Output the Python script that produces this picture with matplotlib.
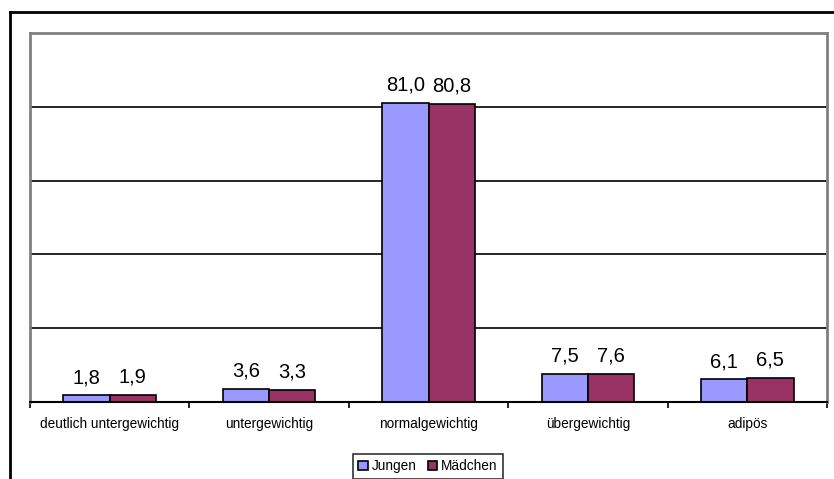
import numpy as np
import matplotlib
matplotlib.use("Agg")
from matplotlib import pyplot as plt
from matplotlib.lines import Line2D

plt.rcParams['font.family'] = ['Liberation Sans', 'DejaVu Sans']

categories = ["deutlich untergewichtig", "untergewichtig", "normalgewichtig",
              "übergewichtig", "adipös"]
jungen = [1.8, 3.6, 81.0, 7.5, 6.1]
maedchen = [1.9, 3.3, 80.8, 7.6, 6.5]
series_names = ["Jungen", "Mädchen"]

W, H = 834, 479
fig = plt.figure(figsize=(W / 100, H / 100), dpi=100)
ax = fig.add_axes([30 / W, 1 - 402 / H, (827 - 30) / W, (402 - 33) / H])

x = np.arange(len(categories))
bw = 0.29
b1 = ax.bar(x - bw / 2, jungen, bw, color="#9999FF", edgecolor="black",
            linewidth=1.2, label=series_names[0], zorder=3)
b2 = ax.bar(x + bw / 2, maedchen, bw, color="#993366", edgecolor="black",
            linewidth=1.2, label=series_names[1], zorder=3)

for bars, vals in ((b1, jungen), (b2, maedchen)):
    for rect, v in zip(bars, vals):
        ax.annotate(f"{v:.1f}".replace(".", ","),
                    (rect.get_x() + rect.get_width() / 2, rect.get_height()),
                    xytext=(0, 6), textcoords="offset points",
                    ha="center", va="bottom", fontsize=14.5)

ax.set_xlim(-0.5, len(categories) - 0.5)
ax.set_ylim(0, 100)
ax.set_yticks([])
for yv in (20, 40, 60, 80):
    ax.axhline(yv, color="black", linewidth=1.2, zorder=1)

ax.set_xticks(x)
ax.set_xticklabels(categories, fontsize=9.8)
ax.tick_params(axis="x", which="major", length=0, pad=11)
ax.set_xticks(np.arange(-0.5, len(categories)), minor=True)
ax.tick_params(axis="x", which="minor", length=4, width=1.2, color="black",
               direction="out")

for side in ("left", "top", "right"):
    ax.spines[side].set_color("#808080")
    ax.spines[side].set_linewidth(2)
ax.spines["bottom"].set_color("black")
ax.spines["bottom"].set_linewidth(1.5)
ax.spines["bottom"].set_zorder(4)

# outer chart frame (right and bottom edges are cut off)
fig.add_artist(Line2D([10 / W, 10 / W], [0, 1 - 12 / H], color="black",
                      linewidth=2, transform=fig.transFigure))
fig.add_artist(Line2D([10 / W, 1], [1 - 12 / H, 1 - 12 / H], color="black",
                      linewidth=2, transform=fig.transFigure))

leg = fig.legend(loc="upper center", bbox_to_anchor=(428 / W, 1 - 454 / H),
                 ncol=2, fontsize=9.8, fancybox=False, frameon=True,
                 edgecolor="black", handlelength=0.7, handleheight=0.7,
                 handletextpad=0.3, columnspacing=0.8, borderpad=0.4,
                 borderaxespad=0)
leg.get_frame().set_linewidth(1.2)

fig.savefig("out.png", dpi=100)
